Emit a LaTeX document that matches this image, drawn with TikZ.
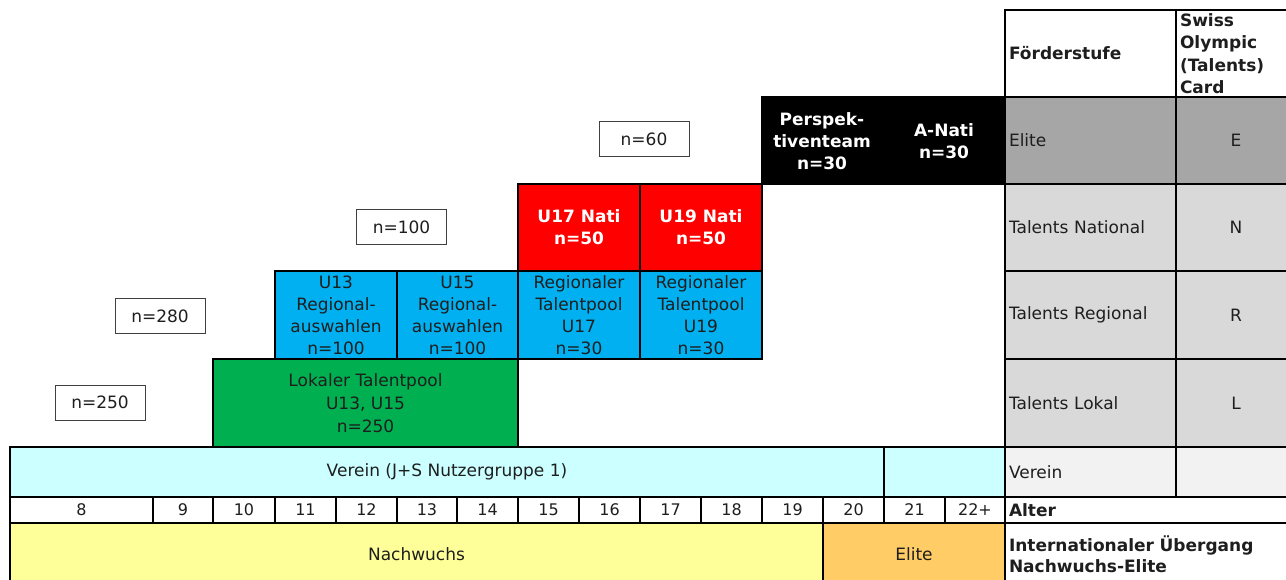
\documentclass[tikz,border=0pt]{standalone}
\usepackage{fontspec}
\setmainfont{DejaVu Sans}
\definecolor{natired}{HTML}{FF0000}
\definecolor{regblue}{HTML}{00B0F0}
\definecolor{lokgreen}{HTML}{00B050}
\definecolor{vercyan}{HTML}{CCFFFF}
\definecolor{nwyellow}{HTML}{FFFF99}
\definecolor{elorange}{HTML}{FFCC66}
\definecolor{elgray}{HTML}{A6A6A6}
\definecolor{talgray}{HTML}{D9D9D9}
\definecolor{vergray}{HTML}{F2F2F2}
\definecolor{ink}{HTML}{1E1E1E}
\tikzset{
  cell/.style={draw=black, line width=1.5pt, inner sep=0pt, align=center, text=ink,
    font=\fontsize{17}{22}\selectfont},
  leftcell/.style={cell, align=left, text width=#1},
  nbox/.style={draw=black!75, line width=1pt, fill=white, minimum width=90pt,
    minimum height=35pt, inner sep=0pt, text=ink, font=\fontsize{17}{20}\selectfont},
  whitetext/.style={text=white, font=\bfseries\fontsize{17}{22}\selectfont},
}
\begin{document}
\begin{tikzpicture}[x=1pt, y=-1pt]
\useasboundingbox (0,0) rectangle (1286,580);
% Stufen
\node[cell, fill=black, minimum width=243pt, minimum height=87pt] (elite) at (883.5,140.5) {};
\node[whitetext, align=center, inner sep=0pt] (persp) at (822,141) {Perspek-\\tiventeam\\n=30};
\node[whitetext, align=center, inner sep=0pt] (anati) at (944,141) {A-Nati\\n=30};
\node[cell, fill=natired, minimum width=122pt, minimum height=87pt, whitetext] (u17nati) at (579,227.5) {U17 Nati\\n=50};
\node[cell, fill=natired, minimum width=122pt, minimum height=87pt, whitetext] (u19nati) at (701,227.5) {U19 Nati\\n=50};
\node[cell, fill=regblue, minimum width=122pt, minimum height=88pt] (u13reg) at (336,315) {U13\\Regional-\\auswahlen\\n=100};
\node[cell, fill=regblue, minimum width=121pt, minimum height=88pt] (u15reg) at (457.5,315) {U15\\Regional-\\auswahlen\\n=100};
\node[cell, fill=regblue, minimum width=122pt, minimum height=88pt] (rtp17) at (579,315) {Regionaler\\Talentpool\\U17\\n=30};
\node[cell, fill=regblue, minimum width=122pt, minimum height=88pt] (rtp19) at (701,315) {Regionaler\\Talentpool\\U19\\n=30};
\node[cell, fill=lokgreen, minimum width=305pt, minimum height=88pt, font=\fontsize{17}{23}\selectfont] (lokal) at (365.5,403) {Lokaler Talentpool\\U13, U15\\n=250};
\node[cell, fill=vercyan, minimum width=874pt, minimum height=50pt] (verein) at (447,472) {Verein (J+S Nutzergruppe 1)};
\node[cell, fill=vercyan, minimum width=121pt, minimum height=50pt] (verein2) at (944.5,472) {};
% Anzahl
\node[nbox] (n60) at (644,139.5) {n=60};
\node[nbox] (n100) at (401.5,227.5) {n=100};
\node[nbox] (n280) at (160,316) {n=280};
\node[nbox] (n250) at (100,402.5) {n=250};
% Tabelle rechts
\node[leftcell=163pt, fill=white, minimum width=171pt, minimum height=87pt, font=\bfseries\fontsize{17}{22}\selectfont] (hstufe) at (1090.5,53.5) {Förderstufe};
\node[leftcell=112pt, fill=white, minimum width=120pt, minimum height=87pt, font=\bfseries\fontsize{17}{22.5}\selectfont] (hcard) at (1236,53.5) {Swiss\\Olympic\\(Talents)\\Card};
\node[leftcell=163pt, fill=elgray, minimum width=171pt, minimum height=87pt] (selite) at (1090.5,140.5) {Elite};
\node[cell, fill=elgray, minimum width=120pt, minimum height=87pt] (celite) at (1236,140.5) {E};
\node[leftcell=163pt, fill=talgray, minimum width=171pt, minimum height=87pt] (snat) at (1090.5,227.5) {Talents National};
\node[cell, fill=talgray, minimum width=120pt, minimum height=87pt] (cnat) at (1236,227.5) {N};
\node[leftcell=163pt, fill=talgray, minimum width=171pt, minimum height=88pt] (sreg) at (1090.5,315) {Talents Regional};
\node[cell, fill=talgray, minimum width=120pt, minimum height=88pt] (creg) at (1236,315) {R};
\node[leftcell=163pt, fill=talgray, minimum width=171pt, minimum height=88pt] (slok) at (1090.5,403) {Talents Lokal};
\node[cell, fill=talgray, minimum width=120pt, minimum height=88pt] (clok) at (1236,403) {L};
\node[leftcell=163pt, fill=vergray, minimum width=171pt, minimum height=50pt] (sverein) at (1090.5,472) {Verein};
\node[cell, fill=vergray, minimum width=120pt, minimum height=50pt] (cverein) at (1236,472) {};
% Alter
\foreach \l/\r/\t [count=\i] in {10/153/8, 153/213/9, 213/275/10, 275/336/11, 336/397/12,
  397/457/13, 457/518/14, 518/579/15, 579/640/16, 640/701/17, 701/762/18, 762/823/19,
  823/884/20, 884/945/21, 945/1005/22+}
  \node[cell, fill=white, minimum width={\r pt-\l pt}, minimum height=26pt,
    font=\fontsize{16}{18}\selectfont] (age\i) at ({(\l+\r)/2},510) {\t};
\node[leftcell=283pt, fill=white, minimum width=291pt, minimum height=26pt, font=\bfseries\fontsize{17}{18}\selectfont] (alter) at (1150.5,510) {Alter};
% Uebergang
\node[cell, fill=nwyellow, minimum width=813pt, minimum height=62pt] (nachwuchs) at (416.5,554) {Nachwuchs};
\node[cell, fill=elorange, minimum width=182pt, minimum height=62pt] (uelite) at (914,554) {Elite};
\node[leftcell=283pt, fill=white, minimum width=291pt, minimum height=62pt, font=\bfseries\fontsize{17}{21}\selectfont] (intl) at (1150.5,554) {Internationaler Übergang\\Nachwuchs-Elite};
\end{tikzpicture}
\end{document}
